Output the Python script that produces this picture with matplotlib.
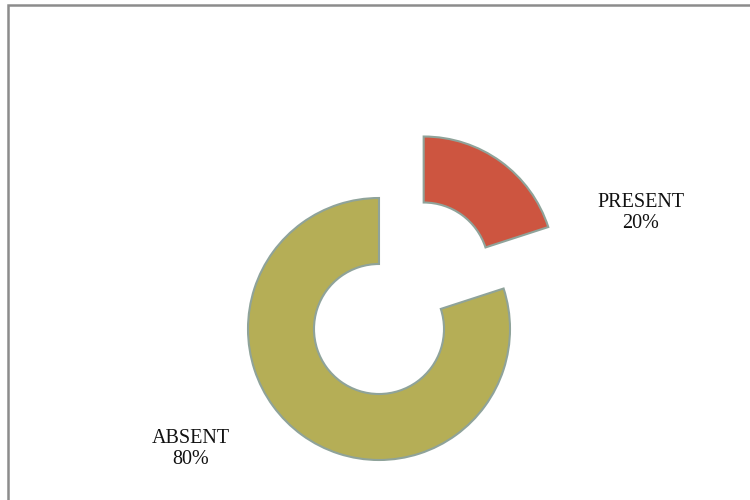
import matplotlib
matplotlib.use("Agg")
import matplotlib.pyplot as plt
from matplotlib.patches import Rectangle

# attendance split
categories = ["PRESENT", "ABSENT"]
percents = [20, 80]
colors = ["#CD5540", "#B5AE56"]

plt.rcParams['font.family'] = ['Liberation Serif', 'DejaVu Serif']

fig = plt.figure(figsize=(7.5, 5), dpi=100)
ax = fig.add_axes([0, 0, 1, 1])

# work in pixel-like units, y measured up from the bottom
cx, cy, r = 379, 500 - 329, 131
ax.pie(percents, colors=colors, startangle=90, counterclock=False,
       center=(cx, cy), radius=r, explode=[76, 0],
       wedgeprops=dict(width=66, edgecolor="#8FA39A", linewidth=1.5))

ax.set_xlim(0, 750)
ax.set_ylim(0, 500)
ax.set_aspect("equal")
ax.axis("off")

label_pos = [(641, 500 - 213), (191, 500 - 449)]
for name, pct, (lx, ly) in zip(categories, percents, label_pos):
    ax.text(lx, ly, "{}\n{}%".format(name, pct), ha="center", va="center",
            fontsize=14.5, linespacing=1.2, color="#111111")

# outer frame, runs off the right and bottom edges
fig.patches.append(Rectangle((8 / 750, -0.1), 1.2, 1.1 - 5 / 500,
                             transform=fig.transFigure, fill=False,
                             edgecolor="#8C8C8C", linewidth=1.8))

fig.savefig("out.png", dpi=100)
